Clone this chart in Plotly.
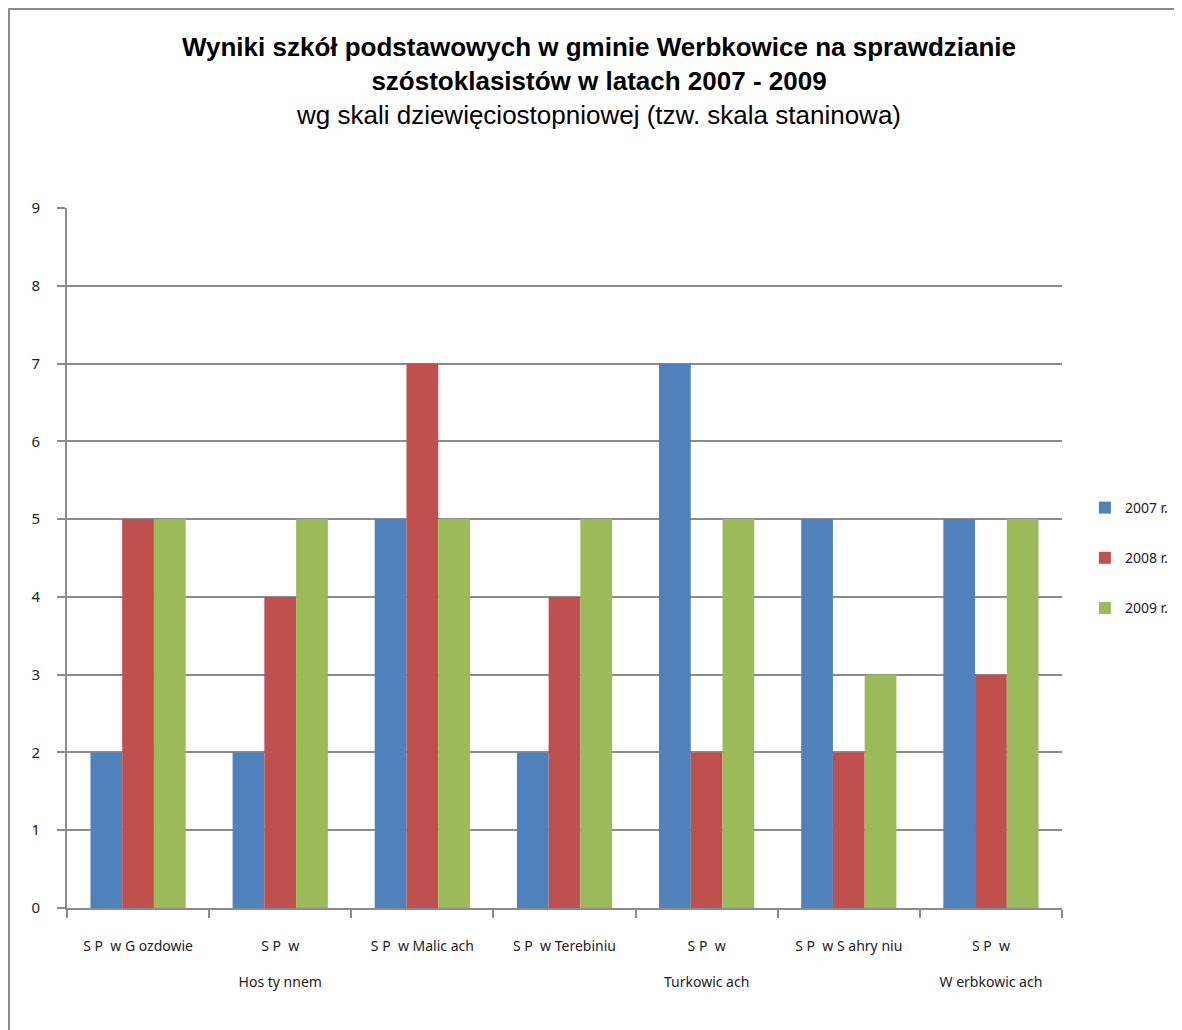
import plotly.graph_objects as go

schools = [
    "S P  w G ozdowie",
    "S P  w<br><br>Hos ty nnem",
    "S P  w Malic ach",
    "S P  w Terebiniu",
    "S P  w<br><br>Turkowic ach",
    "S P  w S ahry niu",
    "S P  w<br><br>W erbkowic ach",
]
years = ["2007 r.", "2008 r.", "2009 r."]
wyniki_2007 = [2, 2, 5, 2, 7, 5, 5]
wyniki_2008 = [5, 4, 7, 4, 2, 2, 3]
wyniki_2009 = [5, 5, 5, 5, 5, 3, 5]
colors = ["#4F81BD", "#C0504D", "#9BBB59"]

fig = go.Figure()
for year, vals, col in zip(years, [wyniki_2007, wyniki_2008, wyniki_2009], colors):
    fig.add_trace(go.Bar(x=schools, y=vals, name=year, legendgroup=year,
                         marker=dict(color=col, line=dict(width=0))))

grid = "#8c8c8c"
# plot area: 995 x 700 px, placed at (59, 200) inside the figure
fig.update_layout(
    width=1182, height=1030,
    paper_bgcolor="white", plot_bgcolor="white",
    margin=dict(l=59, r=128, t=200, b=130),
    bargap=0.33, bargroupgap=0,
    font=dict(family="Noto Sans, Liberation Sans, sans-serif", color="#222", size=14),
    title=dict(
        text="<b>Wyniki szkół podstawowych w gminie Werbkowice na sprawdzianie<br>"
             "szóstoklasistów w latach 2007 - 2009</b><br>"
             "wg skali dziewięciostopniowej (tzw. skala staninowa)",
        font=dict(family="Liberation Sans, Arial, sans-serif", size=26, color="black"),
        x=0.5, xanchor="center", xref="container",
        y=1 - 48 / 1030, yanchor="top", yref="container",
    ),
    legend=dict(x=1.023, y=0.5, xanchor="left", yanchor="middle",
                tracegroupgap=29, font=dict(size=14),
                bgcolor="rgba(0,0,0,0)"),
    showlegend=True,
)
fig.update_xaxes(
    type="category", showline=True, linecolor=grid, linewidth=2,
    ticks="outside", tickson="boundaries", ticklen=8, tickcolor=grid, tickwidth=2,
    showgrid=False, ticklabelstandoff=24, tickfont=dict(size=14),
)
fig.update_yaxes(
    range=[0, 9], dtick=1, showline=True, linecolor=grid, linewidth=2,
    ticks="outside", ticklen=8, tickcolor=grid, tickwidth=2,
    showgrid=True, gridcolor=grid, gridwidth=2, zeroline=False,
    ticklabelstandoff=14, tickfont=dict(size=15),
)
# outer chart frame
fig.add_shape(type="rect", xref="paper", yref="paper",
              x0=(1 - 59) / 995, x1=1.5, y0=-0.5, y1=(900 - 1) / 700,
              line=dict(color="#8c8c8c", width=2), layer="below")

fig.write_html("out.html")
